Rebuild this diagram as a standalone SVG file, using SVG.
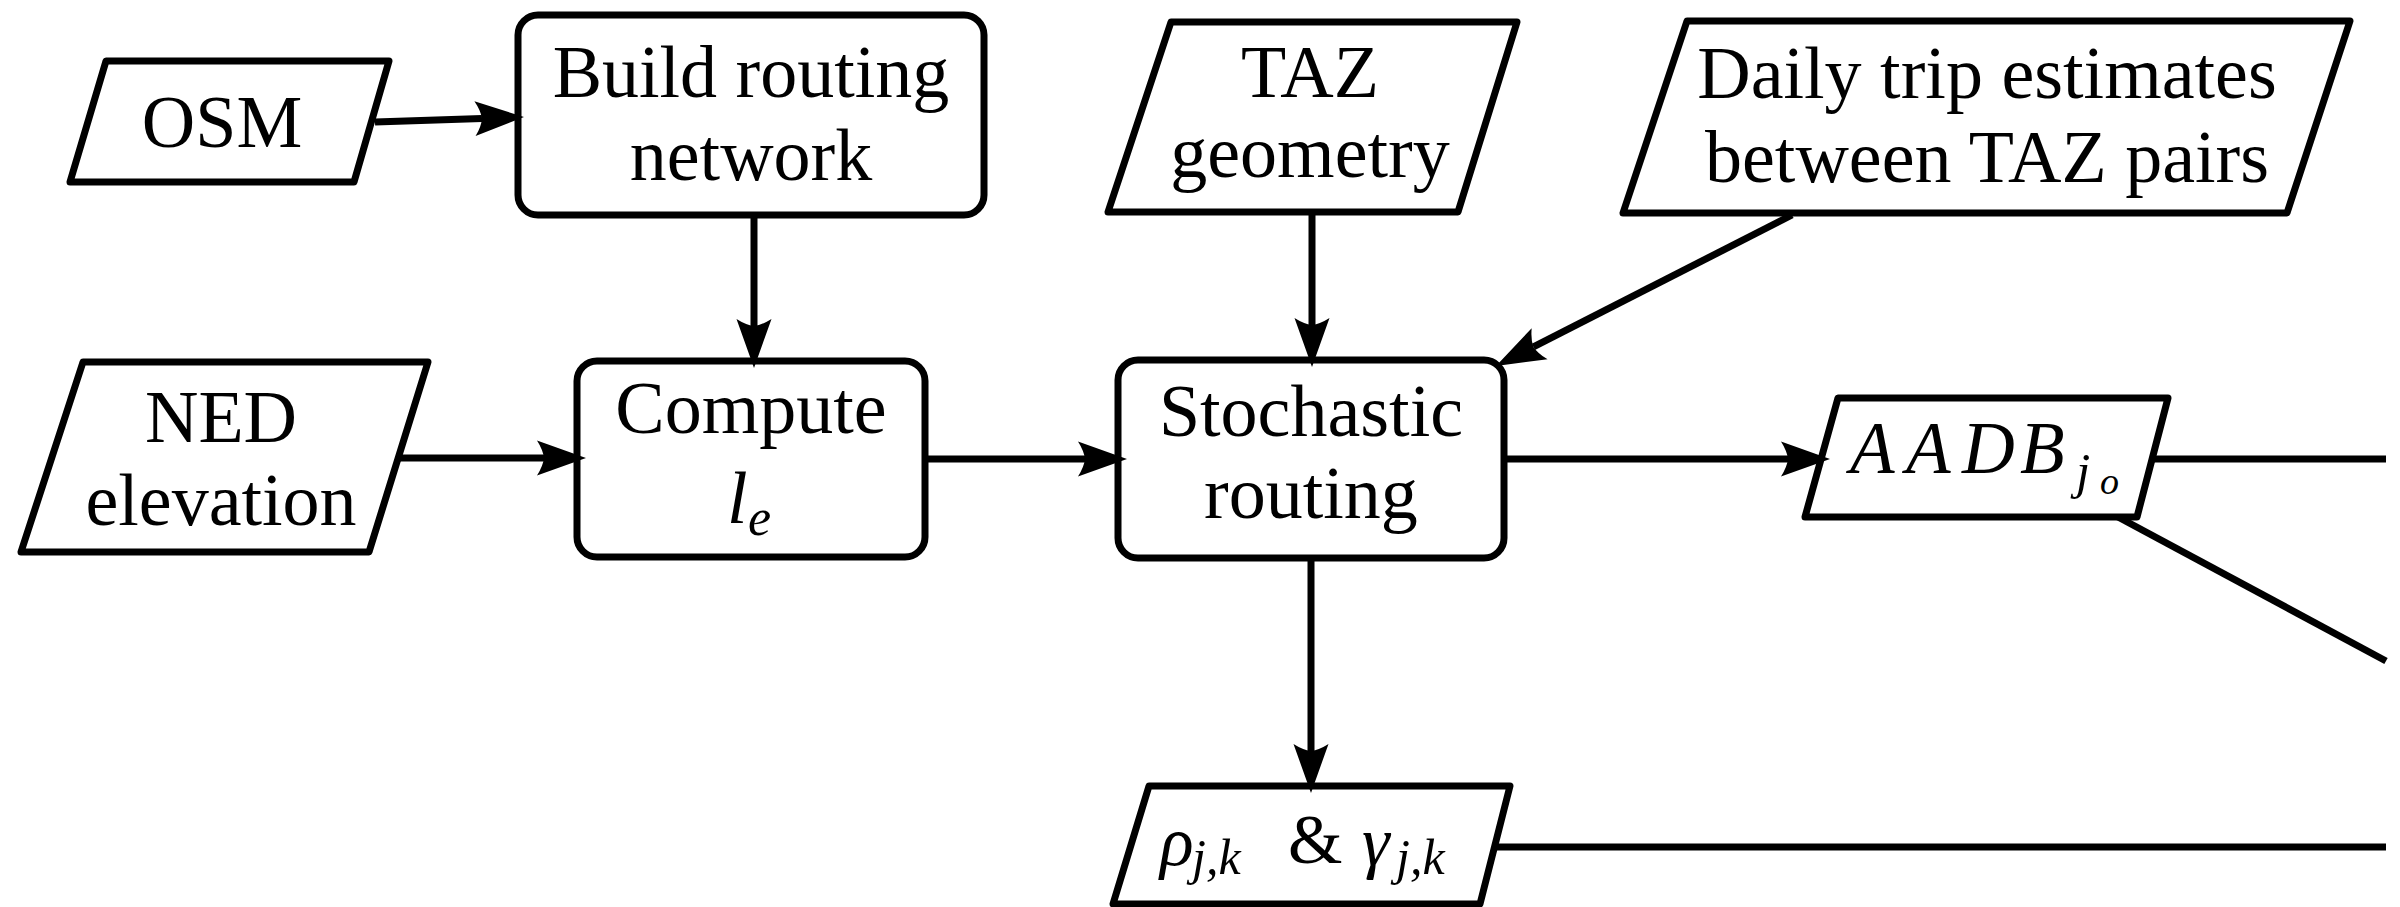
<svg xmlns="http://www.w3.org/2000/svg" width="2400" height="907" viewBox="0 0 2400 907">
  <rect width="2400" height="907" fill="#fff"/>

  <!-- node outlines share one look -->
  <g fill="#fff" stroke="#000" stroke-width="7" stroke-linejoin="round">
    <polygon id="osm-shape" points="106,61 389,61 354,182 70,182"/>
    <polygon id="ned-shape" points="83,362 428,362 369,552 21,552"/>
    <polygon id="taz-shape" points="1171,22 1517,22 1458,212 1108,212"/>
    <polygon id="trips-shape" points="1687,21 2350,21 2287,213 1623,213"/>
    <rect id="build-shape" x="518" y="15" width="466" height="200" rx="20"/>
    <rect id="compute-shape" x="577" y="361" width="348" height="196" rx="20"/>
    <rect id="stochastic-shape" x="1118" y="360" width="386" height="198" rx="20"/>
    <polygon id="aadb-shape" points="1838,398 2168,398 2137,517 1805,517"/>
    <polygon id="rho-gamma-shape" points="1149,786 1510,786 1480,904 1113,904"/>
  </g>

  <!-- node labels -->
  <g id="osm">
    <text font-family="Liberation Serif" font-size="74" text-anchor="middle" x="222" y="147">OSM</text>
  </g>
  <g id="ned">
    <text font-family="Liberation Serif" font-size="74" text-anchor="middle" x="221" y="442">NED</text>
    <text font-family="Liberation Serif" font-size="74" text-anchor="middle" x="221" y="525">elevation</text>
  </g>
  <g id="taz">
    <text font-family="Liberation Serif" font-size="74" text-anchor="middle" x="1310" y="97">TAZ</text>
    <text font-family="Liberation Serif" font-size="74" text-anchor="middle" x="1310" y="177">geometry</text>
  </g>
  <g id="trips">
    <text font-family="Liberation Serif" font-size="74" text-anchor="middle" x="1987" y="98">Daily trip estimates</text>
    <text font-family="Liberation Serif" font-size="74" text-anchor="middle" x="1987" y="182">between TAZ pairs</text>
  </g>
  <g id="build">
    <text font-family="Liberation Serif" font-size="74" text-anchor="middle" x="751" y="97">Build routing</text>
    <text font-family="Liberation Serif" font-size="74" text-anchor="middle" x="751" y="180">network</text>
  </g>
  <g id="compute">
    <text font-family="Liberation Serif" font-size="74" text-anchor="middle" x="751" y="433">Compute</text>
    <text font-family="Liberation Serif" font-style="italic" font-size="74" x="727" y="523">l</text>
    <text font-family="Liberation Serif" font-style="italic" font-size="52" x="748" y="535">e</text>
  </g>
  <g id="stochastic">
    <text font-family="Liberation Serif" font-size="74" text-anchor="middle" x="1311" y="436">Stochastic</text>
    <text font-family="Liberation Serif" font-size="74" text-anchor="middle" x="1311" y="518">routing</text>
  </g>
  <g id="aadb">
    <text font-family="Liberation Serif" font-style="italic" font-size="73" x="1850 1906 1962 2020" y="473">AADB</text>
    <text font-family="Liberation Serif" font-style="italic" font-size="51" x="2076" y="488">j</text>
    <text font-family="Liberation Serif" font-style="italic" font-size="38" x="2100" y="494">o</text>
  </g>
  <g id="rho-gamma">
    <text font-family="Liberation Serif" font-style="italic" font-size="70" x="1160" y="865">&#961;</text>
    <text font-family="Liberation Serif" font-style="italic" font-size="50" x="1192" y="874">j,k</text>
    <text font-family="Liberation Serif" font-size="70" x="1288" y="863">&amp;</text>
    <text font-family="Liberation Serif" font-style="italic" font-size="70" x="1362" y="865">&#947;</text>
    <text font-family="Liberation Serif" font-style="italic" font-size="50" x="1396" y="874">j,k</text>
  </g>

  <!-- connectors: shafts stop at the head's notch -->
  <g id="connectors">
    <g fill="none" stroke="#000" stroke-width="7">
      <path d="M375,122 L482,118.4"/>
      <path d="M754,215 L754,326"/>
      <path d="M398,458 L544,458"/>
      <path d="M925,459 L1085,459"/>
      <path d="M1312,212 L1312,325"/>
      <path d="M1792,215 L1533.4,346.9"/>
      <path d="M1504,459 L1788,459"/>
      <path d="M1311,558 L1311,751"/>
      <path d="M2152,459 L2386,459"/>
      <path d="M2118,517 L2386,661"/>
      <path d="M1494,847 L2386,847"/>
    </g>
    <!-- stealth-style heads: notch at local origin, tip 42 units ahead -->
    <g fill="#000">
      <path transform="translate(482,118.4) rotate(-1.92)" d="M42,0 L-7,-17.5 Q-1,-8 0,0 Q-1,8 -7,17.5 Z"/>
      <path transform="translate(754,326) rotate(90)" d="M42,0 L-7,-17.5 Q-1,-8 0,0 Q-1,8 -7,17.5 Z"/>
      <path transform="translate(544,458)" d="M42,0 L-7,-17.5 Q-1,-8 0,0 Q-1,8 -7,17.5 Z"/>
      <path transform="translate(1085,459)" d="M42,0 L-7,-17.5 Q-1,-8 0,0 Q-1,8 -7,17.5 Z"/>
      <path transform="translate(1312,325) rotate(90)" d="M42,0 L-7,-17.5 Q-1,-8 0,0 Q-1,8 -7,17.5 Z"/>
      <path transform="translate(1533.4,346.9) rotate(152.97)" d="M42,0 L-7,-17.5 Q-1,-8 0,0 Q-1,8 -7,17.5 Z"/>
      <path transform="translate(1788,459)" d="M42,0 L-7,-17.5 Q-1,-8 0,0 Q-1,8 -7,17.5 Z"/>
      <path transform="translate(1311,751) rotate(90)" d="M42,0 L-7,-17.5 Q-1,-8 0,0 Q-1,8 -7,17.5 Z"/>
    </g>
  </g>
</svg>
